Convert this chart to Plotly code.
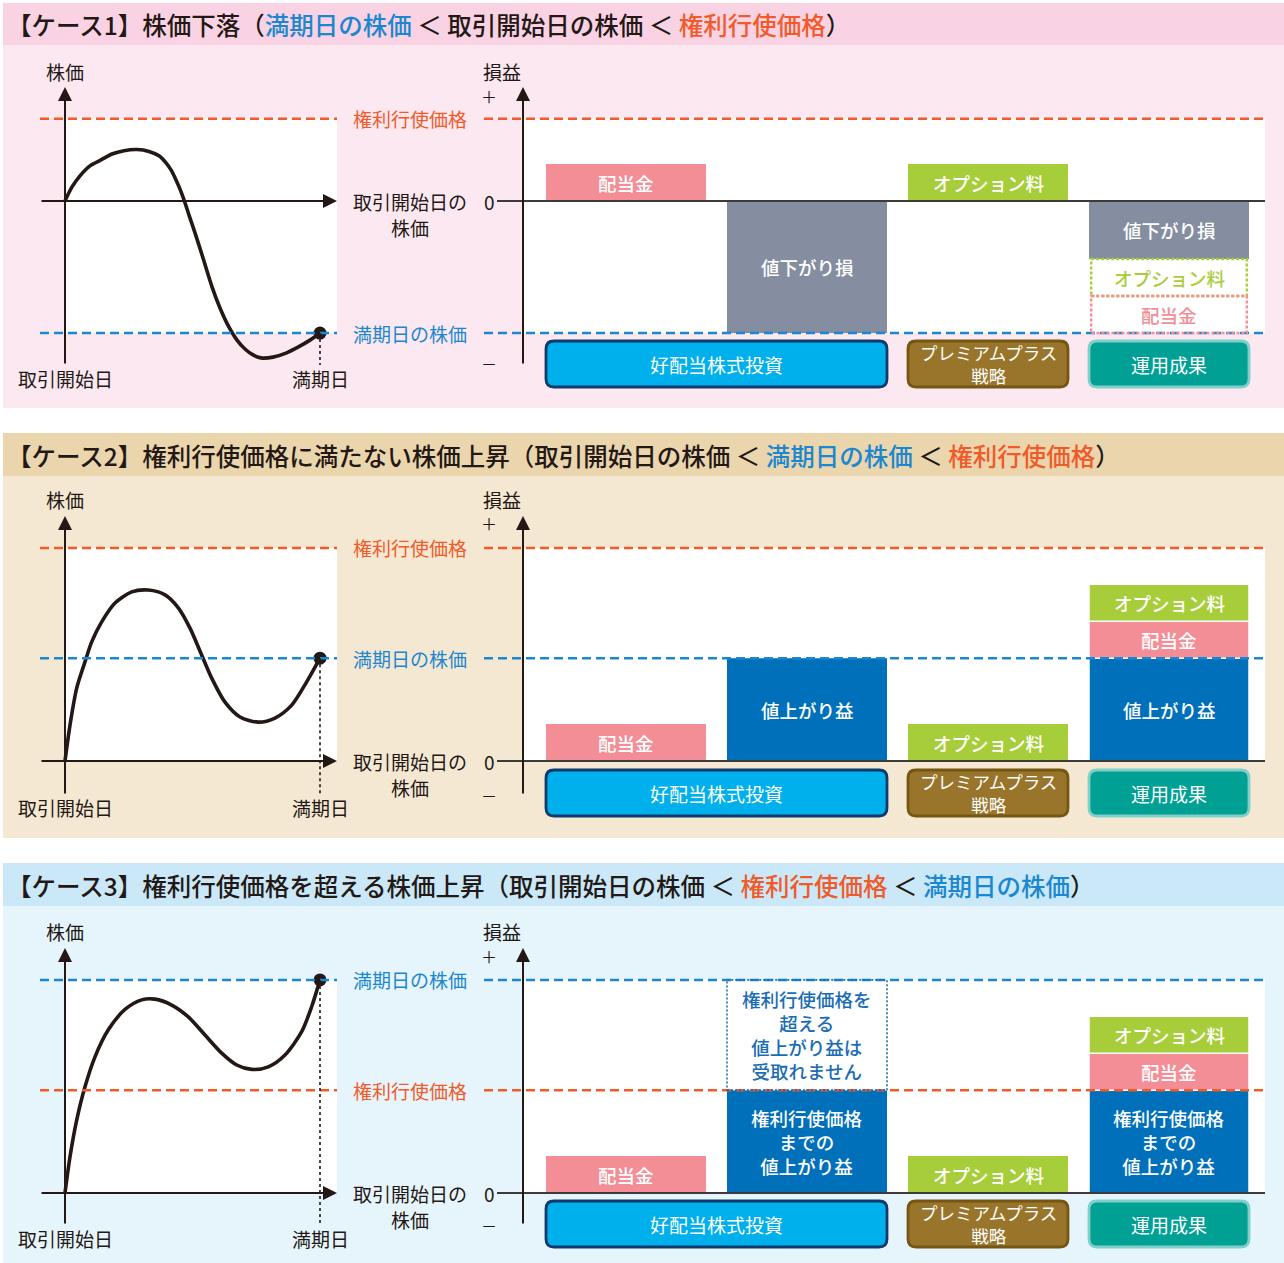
import plotly.graph_objects as go

W, H = 1284, 1263
FONT = "Noto Sans CJK JP"

# ---------------- data ----------------
CASE_LABELS = ["ケース1", "ケース2", "ケース3"]
CASE_TITLES = ["株価下落", "権利行使価格に満たない株価上昇", "権利行使価格を超える株価上昇"]
DIVIDEND = [1.0, 1.0, 1.0]          # 配当金 (relative units)
OPTION_PREMIUM = [1.0, 1.0, 1.0]    # オプション料
STRIKE_LEVEL = [2.22, 5.76, 2.78]   # 権利行使価格 (vs. start price)

# stock-price paths: day (0 = 取引開始日, 100 = 満期日) / price change vs start
CASE1_DAYS = [0, 2.75, 5.88, 9.80, 14.12, 18.43, 23.14, 28.24, 32.94, 36.86, 39.61, 41.57, 43.53, 45.10,
              46.67, 48.63, 50.98, 54.12, 57.65, 60.78, 64.31, 67.45, 70.59, 73.73, 76.86, 81.57, 86.67,
              91.37, 96.08, 100]
CASE1_PRICE = [0, 0.38, 0.68, 0.95, 1.11, 1.27, 1.36, 1.39, 1.34, 1.22, 1.03, 0.84, 0.57, 0.32,
               0.03, -0.38, -0.86, -1.54, -2.32, -2.89, -3.41, -3.76, -4.00, -4.16, -4.24, -4.22, -4.11,
               -3.95, -3.76, -3.57]
CASE2_DAYS = [0, 1.96, 4.59, 7.84, 10.47, 14.39, 19.61, 26.16, 32.67, 39.22, 44.43, 49.02, 53.61, 57.53,
              62.75, 68.63, 75.80, 82.35, 88.90, 94.78, 100]
CASE2_PRICE = [0, 0.97, 1.97, 2.68, 3.22, 3.76, 4.27, 4.57, 4.62, 4.49, 4.14, 3.59, 2.86, 2.24,
               1.59, 1.19, 1.05, 1.16, 1.51, 2.14, 2.78]
CASE3_DAYS = [0, 1.96, 4.59, 7.84, 11.76, 16.98, 23.53, 30.08, 35.29, 41.84, 48.35, 54.90, 61.45, 67.33,
              73.22, 79.73, 86.27, 92.82, 96.75, 100]
CASE3_PRICE = [0, 0.98, 1.97, 2.87, 3.68, 4.41, 4.96, 5.22, 5.24, 5.08, 4.76, 4.27, 3.78, 3.46,
               3.34, 3.41, 3.73, 4.36, 5.04, 5.76]
PRICE_DAYS = [CASE1_DAYS, CASE2_DAYS, CASE3_DAYS]
PRICE_PATHS = [CASE1_PRICE, CASE2_PRICE, CASE3_PRICE]

GROUP_LABELS = ["好配当株式投資", "プレミアムプラス<br>戦略", "運用成果"]
GROUP_COLUMNS = [(0, 1), (2, 2), (3, 3)]

# ---------------- styling ----------------
DARK = "#231815"
ORANGE = "#f15a29"
BLUE_LINE = "#1b87d0"
C_DIV = "#f38e97"
C_OPT = "#a8cd3a"
C_LOSS = "#848ea0"
C_GAIN = "#0070ba"
C_FORGONE = "#1a6db5"
GROUP_FILL = ["#00b0ec", "#98752b", "#00a095"]
GROUP_LINE = ["#0f3a6a", "#755613", "#80cfc9"]

PANELS = [
    dict(head_top=3, head_bot=45, bottom=408, zero=201, label_y=71, tip_y=87, plus_y=96,
         axis_bot=365, box_top=341, box_bot=387, date_y=378, minus_y=363,
         head_col="#f9d3e3", bg="#fce8f0"),
    dict(head_top=433, head_bot=476, bottom=838, zero=761, label_y=499, tip_y=516, plus_y=523,
         axis_bot=795, box_top=770, box_bot=816, date_y=808, minus_y=795,
         head_col="#ebd5ad", bg="#f5e8d3"),
    dict(head_top=863, head_bot=906, bottom=1263, zero=1193, label_y=931, tip_y=948, plus_y=956,
         axis_bot=1225, box_top=1201, box_bot=1247, date_y=1238, minus_y=1225,
         head_col="#cae8f7", bg="#e6f4fb"),
]

K = 37.0                 # px per value unit
LX0, LXS = 65, 2.55      # left chart: day 0 at px 65
RX0, RXS = 626, 181      # right chart: column 0 centre at px 626
BAR_W = 160 / RXS


def px2x(px):
    return px / W


def px2y(py):
    return 1 - py / H


def lx(px):
    return (px - LX0) / LXS


def rx(px):
    return (px - RX0) / RXS


def rrect(x0, x1, y0, y1, rxu, ryu):
    return (f"M{x0+rxu},{y0} L{x1-rxu},{y0} Q{x1},{y0} {x1},{y0+ryu} L{x1},{y1-ryu} "
            f"Q{x1},{y1} {x1-rxu},{y1} L{x0+rxu},{y1} Q{x0},{y1} {x0},{y1-ryu} "
            f"L{x0},{y0+ryu} Q{x0},{y0} {x0+rxu},{y0} Z")


def txt(size=19, color=DARK, weight=400):
    return dict(family=FONT, size=size, color=color, weight=weight)


def label(text, xref, x, yref, y, size=19, color=DARK, weight=400, xanchor="center"):
    return dict(text=text, xref=xref, yref=yref, x=x, y=y, showarrow=False, borderpad=0,
                xanchor=xanchor, yanchor="middle", font=txt(size, color, weight))


fig = go.Figure()
shapes, annos, axes = [], [], {}

for i, P in enumerate(PANELS):
    kl, kr = 2 * i + 1, 2 * i + 2
    sl = "" if kl == 1 else str(kl)
    xl, yl, xr, yr = "x" + sl, "y" + sl, f"x{kr}", f"y{kr}"

    def vy(py, P=P):
        return (P["zero"] - py) / K

    ydom = [max(0, px2y(P["bottom"])), px2y(P["head_bot"])]
    yrng = [vy(P["bottom"]), vy(P["head_bot"])]
    axes["xaxis" + sl] = dict(domain=[px2x(8), px2x(345)], range=[lx(8), lx(345)], visible=False, anchor=yl, fixedrange=True)
    axes["yaxis" + sl] = dict(domain=ydom, range=yrng, visible=False, anchor=xl, fixedrange=True)
    axes[f"xaxis{kr}"] = dict(domain=[px2x(470), px2x(1280)], range=[rx(470), rx(1280)], visible=False, anchor=yr, fixedrange=True)
    axes[f"yaxis{kr}"] = dict(domain=ydom, range=yrng, visible=False, anchor=xr, fixedrange=True)

    days, price = PRICE_DAYS[i], PRICE_PATHS[i]
    strike, expiry = STRIKE_LEVEL[i], price[-1]
    div, opt = DIVIDEND[i], OPTION_PREMIUM[i]

    # backgrounds
    shapes.append(dict(type="rect", xref="paper", yref="paper", x0=px2x(3), x1=1,
                       y0=max(0, px2y(P["bottom"])), y1=px2y(P["head_top"]),
                       fillcolor=P["bg"], line_width=0, layer="below"))
    shapes.append(dict(type="rect", xref="paper", yref="paper", x0=px2x(3), x1=1,
                       y0=px2y(P["head_bot"]), y1=px2y(P["head_top"]),
                       fillcolor=P["head_col"], line_width=0, layer="below"))
    lo, hi = min(0, strike, expiry), max(0, strike, expiry)
    shapes.append(dict(type="rect", xref=xl, yref=yl, x0=0, x1=lx(337), y0=lo, y1=hi,
                       fillcolor="white", line_width=0, layer="below"))
    shapes.append(dict(type="rect", xref=xr, yref=yr, x0=rx(523), x1=rx(1265), y0=lo, y1=hi,
                       fillcolor="white", line_width=0, layer="below"))

    # header text
    names = {0: ("取引開始日の株価", None), strike: ("権利行使価格", ORANGE), expiry: ("満期日の株価", BLUE_LINE)}
    parts = []
    for lvl in sorted([0, strike, expiry]):
        nm, col = names[lvl]
        parts.append(f'<span style="color:{col}">{nm}</span>' if col else nm)
    head = f"【{CASE_LABELS[i]}】{CASE_TITLES[i]}（" + " ＜ ".join(parts) + "）"
    annos.append(label(head, "paper", px2x(6), "paper", px2y((P["head_top"] + P["head_bot"]) / 2 + 1),
                       size=24.5, weight=500, xanchor="left"))

    # dashed reference lines + labels
    for lvl, col, nm in [(strike, ORANGE, "権利行使価格"), (expiry, BLUE_LINE, "満期日の株価")]:
        for xref, yref, a, b in [(xl, yl, lx(40), lx(337)), (xr, yr, rx(484), rx(1265))]:
            shapes.append(dict(type="line", xref=xref, yref=yref, x0=a, x1=b, y0=lvl, y1=lvl,
                               line=dict(color=col, width=2.5, dash="9px,5px"), layer="above"))
        annos.append(label(nm, "paper", px2x(410), yl, lvl, color=col))
    annos.append(label("取引開始日の", "paper", px2x(410), yl, 0))
    annos.append(label("株価", "paper", px2x(410), "paper", px2y(P["zero"] + 26)))

    # left (price) axes
    annos.append(dict(text="", xref=xl, yref=yl, x=lx(337), y=0, ax=-(337 - 40), ay=0, showarrow=True,
                      arrowhead=2, arrowsize=1.4, arrowwidth=2, arrowcolor=DARK, standoff=0))
    annos.append(dict(text="", xref=xl, yref="paper", x=0, y=px2y(P["tip_y"]), ax=0, ay=P["axis_bot"] - P["tip_y"],
                      showarrow=True, arrowhead=2, arrowsize=1.4, arrowwidth=2, arrowcolor=DARK, standoff=0))
    annos.append(label("株価", xl, 0, "paper", px2y(P["label_y"])))
    annos.append(label("取引開始日", xl, 0, "paper", px2y(P["date_y"])))
    annos.append(label("満期日", xl, days[-1], "paper", px2y(P["date_y"])))
    shapes.append(dict(type="line", xref=xl, yref=yl, x0=days[-1], x1=days[-1], y0=expiry, y1=vy(P["axis_bot"]),
                       line=dict(color=DARK, width=1.6, dash="3px,3px"), layer="above"))

    fig.add_trace(go.Scatter(x=days, y=price, mode="lines", line=dict(color=DARK, width=3.6, shape="spline", smoothing=0.8),
                             xaxis=xl, yaxis=yl, showlegend=False, hoverinfo="skip"))
    fig.add_trace(go.Scatter(x=[days[-1]], y=[expiry], mode="markers", marker=dict(color=DARK, size=13),
                             xaxis=xl, yaxis=yl, showlegend=False, hoverinfo="skip"))

    # right (P&L) axes
    annos.append(dict(text="", xref=xr, yref="paper", x=rx(523), y=px2y(P["tip_y"]), ax=0, ay=P["axis_bot"] - P["tip_y"],
                      showarrow=True, arrowhead=2, arrowsize=1.4, arrowwidth=2, arrowcolor=DARK, standoff=0))
    shapes.append(dict(type="line", xref=xr, yref=yr, x0=rx(497), x1=rx(1265), y0=0, y1=0,
                       line=dict(color="#3e3a39", width=2), layer="above"))
    annos.append(label("損益", "paper", px2x(502), "paper", px2y(P["label_y"])))
    annos.append(label("＋", "paper", px2x(489), "paper", px2y(P["plus_y"]), size=16))
    annos.append(label("0", "paper", px2x(489), yr, 0))
    annos.append(label("－", "paper", px2x(489), "paper", px2y(P["minus_y"]), size=16))

    # ---- bars ----
    bars = [(0, 0, div, C_DIV, "配当金", False)]
    if expiry < 0:
        bars.append((1, 0, expiry, C_LOSS, "値下がり損", False))
    elif expiry <= strike:
        bars.append((1, 0, expiry, C_GAIN, "値上がり益", False))
    else:
        bars.append((1, 0, strike, C_GAIN, "権利行使価格<br>までの<br>値上がり益", False))
        bars.append((1, strike, expiry - strike, C_FORGONE, "権利行使価格を<br>超える<br>値上がり益は<br>受取れません", True))
    bars.append((2, 0, opt, C_OPT, "オプション料", False))
    if expiry < 0:
        net = expiry + div + opt
        bars.append((3, 0, net, C_LOSS, "値下がり損", False))
        bars.append((3, net, -opt, C_OPT, "オプション料", True))
        bars.append((3, net - opt, -div, C_DIV, "配当金", True))
    else:
        g = min(expiry, strike)
        glab = "値上がり益" if expiry <= strike else "権利行使価格<br>までの<br>値上がり益"
        bars.append((3, 0, g, C_GAIN, glab, False))
        bars.append((3, g, div, C_DIV, "配当金", False))
        bars.append((3, g + div, opt, C_OPT, "オプション料", False))

    for col, base, h, color, lab, dotted in bars:
        stacked = col == 3 and expiry >= 0
        fig.add_trace(go.Bar(x=[col], y=[h], base=[base], width=[BAR_W], xaxis=xr, yaxis=yr,
                             marker=dict(color="white" if dotted else color,
                                         line=dict(color="white", width=1.5 if stacked else 0)),
                             showlegend=False, hoverinfo="skip"))
        if dotted:
            thin = color == C_FORGONE
            inset = 0.0 if thin else 0.012
            shapes.append(dict(type="rect", xref=xr, yref=yr, x0=col - BAR_W / 2 + inset, x1=col + BAR_W / 2 - inset,
                               y0=base, y1=base + h,
                               line=dict(color=color, width=1.6 if thin else 2.5, dash="2px,2px" if thin else "3px,2px"),
                               layer="above"))
        annos.append(label(lab, xr, col, yr, base + h / 2, size=18.5,
                           color=color if dotted else "white", weight=500))

    # group label boxes
    for g, (c0, c1) in enumerate(GROUP_COLUMNS):
        x0, x1 = c0 - BAR_W / 2, c1 + BAR_W / 2
        y0, y1 = px2y(P["box_bot"]), px2y(P["box_top"])
        shapes.append(dict(type="path", xref=xr, yref="paper",
                           path=rrect(x0, x1, y0, y1, 8 / RXS, 8 / H),
                           fillcolor=GROUP_FILL[g], line=dict(color=GROUP_LINE[g], width=2.8), layer="above"))
        two = "<br>" in GROUP_LABELS[g]
        annos.append(label(GROUP_LABELS[g], xr, (c0 + c1) / 2, "paper", (y0 + y1) / 2,
                           size=17.5 if two else 19, color="white"))

fig.update_layout(width=W, height=H, margin=dict(l=0, r=0, t=0, b=0), autosize=False,
                  paper_bgcolor="white", plot_bgcolor="rgba(0,0,0,0)", barmode="overlay",
                  shapes=shapes, annotations=annos, showlegend=False, **axes)

fig.write_html("out.html", config={"displayModeBar": False, "staticPlot": True},
               post_script="document.body.style.margin='0';document.body.style.overflow='hidden';")
